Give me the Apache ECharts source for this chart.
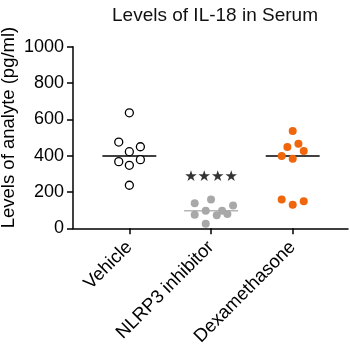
<!DOCTYPE html>
<html>
<head>
<meta charset="utf-8">
<script src="https://cdn.jsdelivr.net/npm/echarts@6/dist/echarts.min.js"></script>
<style>
  html, body { margin: 0; padding: 0; background: #fff; }
  #chart { width: 350px; height: 354px; }
</style>
</head>
<body>
<div id="chart"></div>
<script>
// groups on the x axis
const categories = ["Vehicle", "NLRP3 inhibitor", "Dexamethasone"]

const vehicleValues = [636, 475, 422, 449, 367, 347, 378, 237]
const nlrp3Values = [138, 158, 125, 75, 97, 97, 72, 79, 25]
const dexValues = [536, 448, 466, 426, 398, 383, 158, 130, 149]

// horizontal scatter of the dots around each group centre
const vehicleJitter = [0, -0.13, 0, 0.135, -0.13, 0, 0.135, 0]
const nlrp3Jitter = [-0.2, 0, 0.27, -0.2, -0.065, 0.135, 0.07, 0.2, -0.065]
const dexJitter = [0, -0.065, 0.07, 0.135, -0.135, 0, -0.135, 0, 0.135]

// median bar per group
const medians = [398, 97, 398]
const yTicks = [0, 200, 400, 600, 800, 1000]
const significance = "★★★★"
const significanceY = 281

const FONT = "Liberation Sans, Arial, DejaVu Sans, sans-serif"

const toPoints = (values, jitter, idx) => values.map((v, i) => [idx + jitter[i], v])

const chart = echarts.init(document.getElementById("chart"))

chart.setOption({
  animation: false,
  title: {
    text: "Levels of IL-18 in Serum",
    left: 210,
    textAlign: "center",
    top: 1,
    textStyle: { fontFamily: FONT, fontSize: 19, fontWeight: "normal", color: "#111" }
  },
  grid: { left: 73, right: 2, top: 46.7, bottom: 125.7, containLabel: false, outerBoundsMode: "none" },
  xAxis: {
    type: "value",
    min: -0.69,
    max: 2.677,
    splitLine: { show: false },
    axisLine: { show: true, onZero: false, lineStyle: { color: "#000", width: 1.5 } },
    axisTick: { show: true, length: 6, customValues: [0, 1, 2], lineStyle: { color: "#000", width: 1.5 } },
    axisLabel: {
      customValues: [0, 1, 2],
      rotate: 45,
      margin: 16,
      fontFamily: FONT,
      fontSize: 18.5,
      color: "#000",
      formatter: v => categories[Math.round(v)]
    }
  },
  yAxis: {
    type: "value",
    min: 0,
    max: 1000,
    interval: 200,
    name: "Levels of analyte (pg/ml)",
    nameLocation: "middle",
    nameGap: 55,
    nameMoveOverlap: false,
    nameTextStyle: { fontFamily: FONT, fontSize: 18.5, color: "#000", padding: [0, 0, 0, 20] },
    splitLine: { show: false },
    axisLine: { show: true, onZero: false, lineStyle: { color: "#000", width: 1.5 } },
    axisTick: { show: true, length: 6, lineStyle: { color: "#000", width: 1.5 } },
    axisLabel: {
      margin: 9,
      fontFamily: FONT,
      fontSize: 18,
      color: "#000",
      customValues: yTicks,
      formatter: v => String(v)
    }
  },
  series: [
    {
      type: "scatter",
      symbol: "circle",
      symbolSize: 8,
      data: toPoints(vehicleValues, vehicleJitter, 0),
      itemStyle: { color: "#fff", borderColor: "#000", borderWidth: 1.3, opacity: 1 }
    },
    {
      type: "scatter",
      symbol: "circle",
      symbolSize: 8,
      data: toPoints(nlrp3Values, nlrp3Jitter, 1),
      itemStyle: { color: "#a8a8a8", opacity: 1 }
    },
    {
      type: "scatter",
      symbol: "circle",
      symbolSize: 8,
      data: toPoints(dexValues, dexJitter, 2),
      itemStyle: { color: "#f0660c", opacity: 1 }
    },
    {
      type: "custom",
      data: medians.map((m, i) => [i, m]),
      renderItem: (params, api) => {
        const i = api.value(0)
        const m = api.value(1)
        const a = api.coord([i - 0.33, m])
        const b = api.coord([i + 0.33, m])
        return {
          type: "line",
          shape: { x1: a[0], y1: a[1], x2: b[0], y2: b[1] },
          style: { stroke: i === 1 ? "#b5b5b5" : "#000", lineWidth: 1.5 }
        }
      },
      z: 1
    },
    {
      type: "scatter",
      symbolSize: 0,
      data: [[1, significanceY]],
      label: {
        show: true,
        position: "inside",
        formatter: significance,
        fontFamily: "DejaVu Sans",
        fontSize: 15,
        color: "#000"
      }
    }
  ]
})
</script>
</body>
</html>
